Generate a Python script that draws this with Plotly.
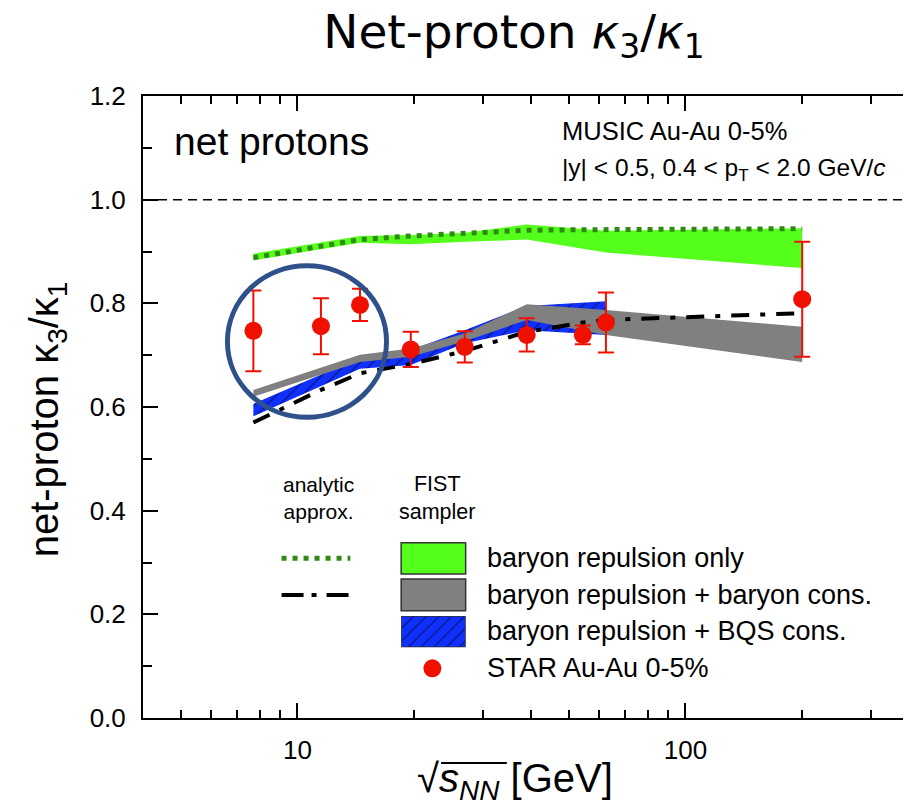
import plotly.graph_objects as go

# collision energies sqrt(s_NN) in GeV
energy = [7.7, 11.5, 14.5, 19.6, 27, 39, 54.4, 62.4, 200]

# STAR Au-Au 0-5% net-proton kappa3/kappa1
star_ratio = [0.747, 0.756, 0.797, 0.711, 0.716, 0.739, 0.739, 0.763, 0.808]
star_err = [0.078, 0.054, 0.031, 0.034, 0.030, 0.032, 0.018, 0.058, 0.111]

# analytic approximation curves
analytic_rep = [0.888, 0.910, 0.923, 0.930, 0.935, 0.941, 0.942, 0.942, 0.944]
analytic_bcons = [0.570, 0.633, 0.665, 0.683, 0.708, 0.745, 0.763, 0.768, 0.781]

# FIST sampler bands
fist_energy = [7.7, 14.5, 19.6, 27, 39, 62.4, 200]
rep_hi = [0.896, 0.930, 0.932, 0.936, 0.952, 0.940, 0.945]
rep_lo = [0.883, 0.917, 0.914, 0.919, 0.923, 0.898, 0.868]
bcons_hi = [0.633, 0.701, 0.713, 0.742, 0.798, 0.787, 0.755]
bcons_lo = [0.620, 0.687, 0.697, 0.727, 0.768, 0.739, 0.687]
bqs_energy = [7.7, 14.5, 19.6, 27, 39, 62.4]
bqs_hi = [0.606, 0.695, 0.710, 0.748, 0.795, 0.804]
bqs_lo = [0.582, 0.674, 0.681, 0.723, 0.748, 0.739]

y_ticks = [0.0, 0.2, 0.4, 0.6, 0.8, 1.0, 1.2]
x_major = [10, 100]
x_minor = [5, 6, 7, 8, 9, 20, 30, 40, 50, 60, 70, 80, 90, 200, 300]

GREEN = "#55ff1c"
DKGREEN = "#2f8a14"
GRAY = "#808080"
BLUE = "#1030ff"
RED = "#f01000"
FONT = "Liberation Sans"

# page has an 8px body margin; plot area on the page: x 143..921.5, y 96..718
OFF = 8
L, R, T, B = 143, 921.5, 96, 718
W, H = 925, 805


def px(x):
    return (x - L) / (R - L)


def py(y):
    return (B - y) / (B - T)


def band(xs, hi, lo):
    return xs + xs[::-1], hi + lo[::-1]


hatch = dict(shape="/", bgcolor=BLUE, fgcolor="black", size=9, solidity=0.15)

fig = go.Figure()

bx, by = band(fist_energy, rep_hi, rep_lo)
fig.add_trace(go.Scatter(x=bx, y=by, fill="toself", fillcolor=GREEN,
                         line=dict(width=0), mode="lines", hoverinfo="skip"))
fig.add_trace(go.Scatter(x=energy, y=analytic_rep, mode="lines",
                         line=dict(color=DKGREEN, width=5, dash="5px,6px")))

bx, by = band(bqs_energy, bqs_hi, bqs_lo)
fig.add_trace(go.Scatter(x=bx, y=by, fill="toself", mode="lines",
                         line=dict(width=0), fillcolor=BLUE, fillpattern=hatch))
bx, by = band(fist_energy, bcons_hi, bcons_lo)
fig.add_trace(go.Scatter(x=bx, y=by, fill="toself", fillcolor=GRAY,
                         line=dict(width=0), mode="lines"))

fig.add_trace(go.Scatter(x=energy, y=analytic_bcons, mode="lines",
                         line=dict(color="black", width=4, dash="18px,11px,5px,11px")))

fig.add_trace(go.Scatter(
    x=energy, y=star_ratio, mode="markers",
    marker=dict(color=RED, size=18),
    error_y=dict(type="data", array=star_err, color=RED, thickness=2, width=8),
))

# hatched legend swatch (tiny hidden subplot)
fig.add_trace(go.Scatter(
    x=[0, 1, 1, 0, 0], y=[0, 0, 1, 1, 0], xaxis="x2", yaxis="y2",
    fill="toself", mode="lines", line=dict(color="#333333", width=1.5),
    fillcolor=BLUE, fillpattern=hatch,
))

axis_common = dict(showline=True, linecolor="black", linewidth=2, mirror="ticks",
                   ticks="inside", tickcolor="black", tickwidth=2,
                   tickfont=dict(family=FONT, size=26, color="black"),
                   showgrid=False, zeroline=False)

shapes = [
    dict(type="line", xref="paper", yref="y", x0=0, x1=1, y0=1.0, y1=1.0,
         line=dict(color="black", width=1.5, dash="9px,6px")),
    dict(type="circle", xref="paper", yref="paper",
         x0=px(227.7), x1=px(387.3), y0=py(417.3), y1=py(265.7),
         line=dict(color="#2f5189", width=5), layer="above"),
    # legend line samples
    dict(type="line", xref="paper", yref="paper", x0=px(282), x1=px(351),
         y0=py(558.3), y1=py(558.3), line=dict(color=DKGREEN, width=5, dash="5px,6px")),
    dict(type="line", xref="paper", yref="paper", x0=px(282), x1=px(352),
         y0=py(595), y1=py(595),
         line=dict(color="black", width=4, dash="22px,8px,5px,10px")),
    # legend boxes
    dict(type="rect", xref="paper", yref="paper", x0=px(402), x1=px(466.7),
         y0=py(574), y1=py(542.7), fillcolor=GREEN,
         line=dict(color="#333333", width=1.5)),
    dict(type="rect", xref="paper", yref="paper", x0=px(402), x1=px(466.7),
         y0=py(610.7), y1=py(579), fillcolor=GRAY,
         line=dict(color="#333333", width=1.5)),
    dict(type="circle", xref="paper", yref="paper", x0=px(424.3), x1=px(442.3),
         y0=py(677.3), y1=py(659.3), fillcolor=RED, line=dict(width=0)),
    # overline of the square root in the x title
    dict(type="line", xref="paper", yref="paper", x0=px(442), x1=px(508),
         y0=py(763), y1=py(763), line=dict(color="black", width=1.8)),
]


def label(text, x, y, size, xanchor="left", family=FONT, **kw):
    return dict(text=text, x=x, y=y, xref="paper", yref="paper", showarrow=False,
                xanchor=xanchor, yanchor="middle",
                font=dict(family=family, size=size, color="black"), **kw)


annotations = [
    label("net protons", px(172), py(141), 39),
    label("MUSIC Au-Au 0-5%", px(561), py(131), 25.5),
    label("|y| &lt; 0.5, 0.4 &lt; p<sub>T</sub> &lt; 2.0 GeV/<i>c</i>", px(561), py(169), 24.5),
    label("analytic<br>approx.", px(319), py(498), 21, xanchor="center"),
    label("FIST<br>sampler", px(437.7), py(498), 21.5, xanchor="center"),
    label("baryon repulsion only", px(486), py(558), 27),
    label("baryon repulsion + baryon cons.", px(486), py(595), 27),
    label("baryon repulsion + BQS cons.", px(486), py(631), 27),
    label("STAR Au-Au 0-5%", px(486), py(668), 27),
    label("net-proton κ<sub>3</sub>/κ<sub>1</sub>", px(47), py(419), 40,
          xanchor="center", textangle=-90),
    label("√<i>s</i><sub><i>NN</i></sub> [GeV]", px(516), py(781), 40,
          xanchor="center"),
]

fig.update_layout(
    width=W, height=H,
    margin=dict(l=L - OFF, r=W - (R - OFF), t=T - OFF, b=H - (B - OFF)),
    paper_bgcolor="white", plot_bgcolor="white",
    showlegend=False,
    title=dict(text="Net-proton <i>κ</i><sub>3</sub>/<i>κ</i><sub>1</sub>",
               x=(514 - OFF) / W, xref="container", xanchor="center",
               y=1 - (32 - OFF) / H, yref="container", yanchor="middle",
               font=dict(family="DejaVu Sans", size=47, color="black")),
    xaxis=dict(type="log", range=[0.60206, 2.60206],
               tickvals=x_major, ticktext=[str(v) for v in x_major], ticklen=15,
               ticklabelstandoff=8,
               minor=dict(tickvals=x_minor, ticks="inside", ticklen=8,
                          tickwidth=2, tickcolor="black"),
               **axis_common),
    yaxis=dict(range=[0, 1.2], tickvals=y_ticks, tickformat=".1f", ticklen=15,
               ticklabelstandoff=10,
               minor=dict(dtick=0.1, ticks="inside", ticklen=9,
                          tickwidth=2, tickcolor="black"),
               **axis_common),
    xaxis2=dict(domain=[px(402), px(466.7)], range=[0, 1], visible=False,
                anchor="y2"),
    yaxis2=dict(domain=[py(647.3), py(616)], range=[0, 1], visible=False,
                anchor="x2"),
    shapes=shapes,
    annotations=annotations,
)

fig.write_html("out.html")
